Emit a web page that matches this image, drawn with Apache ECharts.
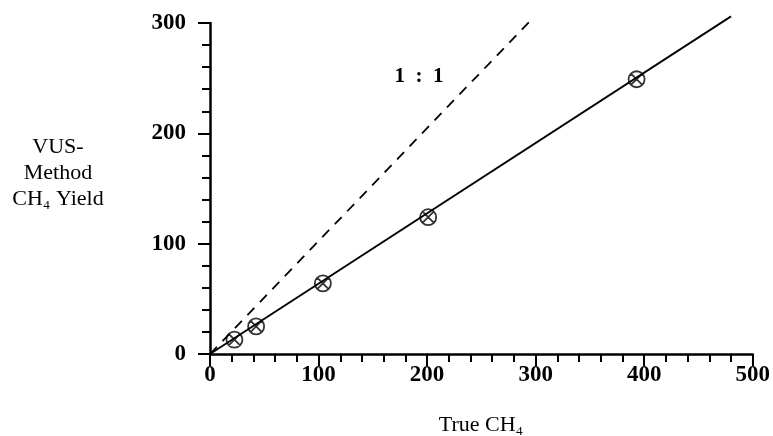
<!DOCTYPE html>
<html>
<head>
<meta charset="utf-8">
<script src="https://cdn.jsdelivr.net/npm/echarts@6/dist/echarts.min.js"></script>
<style>
  html, body { margin: 0; padding: 0; background: #fff; }
  #chart { width: 773px; height: 436px; }
</style>
</head>
<body>
<div id="chart"></div>
<script>
// measured points (true CH4 vs VUS-method yield)
var trueCH4 = [22.5, 42.5, 104, 201, 393];
var vusYield = [13, 25, 64, 124, 249];
// fitted line end points
var fitX = [0, 480];
var fitY = [0, 306];
// 1:1 reference line end points
var oneX = [0, 297];
var oneY = [0, 304];

var xTicks = [0, 100, 200, 300, 400, 500];
var yTicks = [0, 100, 200, 300];

var serif = 'Liberation Serif';

function pairs (xs, ys) {
  return xs.map(function (x, i) { return [x, ys[i]]; });
}

var chart = echarts.init(document.getElementById('chart'));

// circle with a cross through it
var crossCircle = 'path://M0,-7 A7,7 0 1,1 0,7 A7,7 0 1,1 0,-7 Z M-5,-5 L5,5 M5,-5 L-5,5';

chart.setOption({
  animation: false,
  grid: { left: 210, right: 19, top: 23, bottom: 82 },
  xAxis: {
    type: 'value',
    min: xTicks[0],
    max: xTicks[xTicks.length - 1],
    interval: 100,
    axisLine: { lineStyle: { color: '#000', width: 2.5 } },
    axisTick: { show: true, length: 12, lineStyle: { color: '#000', width: 2 } },
    minorTick: { show: true, splitNumber: 5, length: 8, lineStyle: { color: '#000', width: 2 } },
    splitLine: { show: false },
    axisLabel: { color: '#000', fontFamily: serif, fontWeight: 'bold', fontSize: 23, margin: 10 }
  },
  yAxis: {
    type: 'value',
    min: yTicks[0],
    max: yTicks[yTicks.length - 1],
    interval: 100,
    axisLine: { show: true, lineStyle: { color: '#000', width: 2.5 } },
    axisTick: { show: true, length: 12, lineStyle: { color: '#000', width: 2 } },
    minorTick: { show: true, splitNumber: 5, length: 8, lineStyle: { color: '#000', width: 2 } },
    splitLine: { show: false },
    axisLabel: { color: '#000', fontFamily: serif, fontWeight: 'bold', fontSize: 23, margin: 24 }
  },
  graphic: [
    {
      type: 'text', x: 58, y: 173,
      style: {
        text: 'VUS-\nMethod\nCH₄ Yield',
        align: 'center', verticalAlign: 'middle',
        font: '22px "Liberation Serif"', lineHeight: 26, fill: '#000'
      }
    },
    {
      type: 'text', x: 481, y: 425,
      style: {
        text: 'True CH₄', align: 'center', verticalAlign: 'middle',
        font: '22px "Liberation Serif"', fill: '#000'
      }
    },
    {
      type: 'text', x: 419, y: 77,
      style: {
        text: '1  :  1', align: 'center', verticalAlign: 'middle',
        font: 'bold 21px "Liberation Serif"', fill: '#000'
      }
    }
  ],
  series: [
    {
      type: 'line',
      data: pairs(fitX, fitY),
      clip: false,
      symbol: 'none',
      lineStyle: { color: '#000', width: 1.8 }
    },
    {
      type: 'line',
      data: pairs(oneX, oneY),
      clip: false,
      symbol: 'none',
      lineStyle: { color: '#000', width: 1.8, type: [10, 8] }
    },
    {
      type: 'scatter',
      data: pairs(trueCH4, vusYield),
      symbol: crossCircle,
      symbolSize: 16,
      itemStyle: { color: 'rgba(0,0,0,0)', borderColor: '#000', borderWidth: 1.8 }
    }
  ]
});
</script>
</body>
</html>
